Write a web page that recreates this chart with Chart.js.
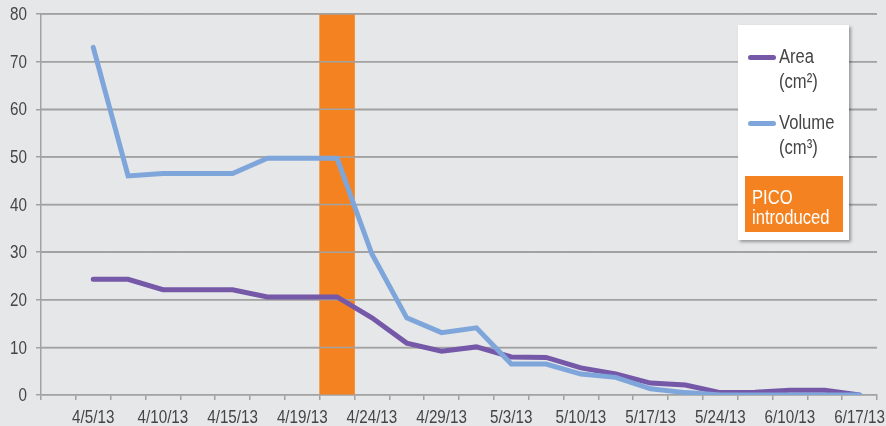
<!DOCTYPE html>
<html>
<head>
<meta charset="utf-8">
<script src="https://cdn.jsdelivr.net/npm/chart.js@4.4.0/dist/chart.umd.min.js"></script>
<style>
  html, body { margin: 0; padding: 0; background: #e6e7e9; }
  #wrap { position: relative; width: 886px; height: 426px; }
  #legend {
    position: absolute; left: 738px; top: 25px; width: 111px; height: 215px;
    background: #fff; box-shadow: 2px 2px 3px rgba(0,0,0,0.35);
    font-family: "Liberation Sans", sans-serif;
    font-size: 20px; color: #454545; line-height: 22px;
  }
  .item { position: absolute; left: 10px; }
  .swatch { position: absolute; left: 0; width: 28px; height: 5px; border-radius: 3px; }
  .txt { position: absolute; left: 31px; white-space: nowrap; transform: scaleX(0.83); transform-origin: left center; }
  #pico {
    position: absolute; left: 7px; top: 151px; width: 98px; height: 56px;
    background: #f48220; color: #fff;
  }
  #pico .txt { left: 7px; }
</style>
</head>
<body>
<div id="wrap">
  <canvas id="chart"></canvas>
  <div id="legend"></div>
</div>
<script>
// categories (only every other one is labelled on the axis)
const dateLabels = ['', '4/5/13', '', '4/10/13', '', '4/15/13', '', '4/19/13', '', '4/24/13', '', '4/29/13',
                    '', '5/3/13', '', '5/10/13', '', '5/17/13', '', '5/24/13', '', '6/10/13', '', '6/17/13'];
const areaCm2   = [null, 24.3, 24.3, 22.1, 22.1, 22.1, 20.6, 20.6, 20.6, 16.2, 10.9, 9.2,
                   10.1, 8.0, 7.9, 5.7, 4.4, 2.5, 2.1, 0.5, 0.6, 1.0, 1.0, 0];
const volumeCm3 = [null, 73, 46, 46.5, 46.5, 46.5, 49.7, 49.7, 49.7, 29.6, 16.2, 13.1,
                   14.1, 6.5, 6.5, 4.4, 3.7, 1.3, 0.5, 0, 0, 0, 0, 0];
const picoBand  = [null, null, null, null, null, null, null, null, 80, null, null, null,
                   null, null, null, null, null, null, null, null, null, null, null, null];
const yTicks = [0, 10, 20, 30, 40, 50, 60, 70, 80];

const purple = '#7559a8';
const blue = '#7fa6da';
const orange = '#f48220';
const gridColor = '#a2a2a2';
const textColor = '#454545';
const font = { family: '"Liberation Sans", sans-serif', size: 19 };
const narrow = 0.8; // the original uses a condensed face

// horizontal grid lines show through the orange band
const gridOverBand = {
    id: 'gridOverBand',
    afterDatasetDraw(chart, args) {
        if (args.meta.type !== 'bar') return;
        const y = chart.scales.y;
        const ctx = chart.ctx;
        ctx.save();
        ctx.strokeStyle = gridColor;
        ctx.lineWidth = 1.5;
        args.meta.data.forEach(bar => {
            if (!bar || bar.skip) return;
            const half = bar.width / 2;
            yTicks.forEach(v => {
                if (v === 0) return;
                const py = y.getPixelForValue(v);
                ctx.beginPath();
                ctx.moveTo(bar.x - half, py);
                ctx.lineTo(bar.x + half, py);
                ctx.stroke();
            });
        });
        ctx.restore();
    }
};

// tick labels drawn condensed, at the positions the scales give
const narrowTicks = {
    id: 'narrowTicks',
    afterDraw(chart) {
        const ctx = chart.ctx;
        const xs = chart.scales.x, ys = chart.scales.y;
        ctx.save();
        ctx.fillStyle = textColor;
        ctx.font = font.size + 'px ' + font.family;
        ctx.textBaseline = 'middle';
        const put = (text, x, y, align) => {
            ctx.save();
            ctx.translate(x, y);
            ctx.scale(narrow, 1);
            ctx.textAlign = align;
            ctx.fillText(text, 0, 0);
            ctx.restore();
        };
        xs.ticks.forEach((t, i) => {
            const lbl = dateLabels[t.value];
            if (lbl) put(lbl, xs.getPixelForTick(i), 418, 'center');
        });
        ys.ticks.forEach((t, i) => put(String(t.value), 27, ys.getPixelForTick(i) + 1, 'right'));
        ctx.restore();
    }
};

new Chart(document.getElementById('chart'), {
    data: {
        labels: dateLabels,
        datasets: [
            { type: 'line', label: 'Area', data: areaCm2, borderColor: purple, borderWidth: 5,
              pointRadius: 0, tension: 0, order: 2, borderCapStyle: 'round' },
            { type: 'line', label: 'Volume', data: volumeCm3, borderColor: blue, borderWidth: 5,
              pointRadius: 0, tension: 0, order: 1, borderCapStyle: 'round' },
            { type: 'bar', label: 'PICO introduced', data: picoBand, backgroundColor: orange,
              barPercentage: 1, categoryPercentage: 1, order: 3 }
        ]
    },
    options: {
        responsive: true,
        maintainAspectRatio: false,
        animation: false,
        layout: { padding: { top: 14, right: 9, left: 0, bottom: 0 } },
        plugins: { legend: { display: false }, tooltip: { enabled: false } },
        scales: {
            x: {
                offset: true,
                grid: { offset: true, drawOnChartArea: false, drawTicks: true, tickLength: 5, color: gridColor, lineWidth: 1.5 },
                border: { color: gridColor, width: 1.5 },
                ticks: { autoSkip: false, maxRotation: 0, minRotation: 0, color: 'rgba(0,0,0,0)', font, padding: 6 },
                afterFit(scale) { scale.height = 31; scale.paddingLeft = 0; scale.paddingRight = 0; }
            },
            y: {
                min: 0, max: 80,
                afterBuildTicks(scale) { scale.ticks = yTicks.map(v => ({ value: v })); },
                grid: { color: gridColor, lineWidth: 1.5, tickLength: 5 },
                border: { color: gridColor, width: 1.5 },
                ticks: { color: 'rgba(0,0,0,0)', font, padding: 8 },
                afterFit(scale) { scale.width = 41; scale.paddingTop = 0; scale.paddingBottom = 0; }
            }
        }
    },
    plugins: [gridOverBand, narrowTicks]
});

// legend box
const legend = document.getElementById('legend');
const entries = [
    { color: purple, lines: ['Area', '(cm²)'], top: 20 },
    { color: blue, lines: ['Volume', '(cm³)'], top: 86 }
];
entries.forEach(e => {
    const item = document.createElement('div');
    item.className = 'item';
    item.style.top = e.top + 'px';
    item.innerHTML = '<div class="swatch" style="top:10px;background:' + e.color + '"></div>' +
        '<div class="txt" style="top:0">' + e.lines[0] + '</div>' +
        '<div class="txt" style="top:25px">' + e.lines[1] + '</div>';
    legend.appendChild(item);
});
const pico = document.createElement('div');
pico.id = 'pico';
pico.innerHTML = '<div class="txt" style="top:10px">PICO</div><div class="txt" style="top:30px">introduced</div>';
legend.appendChild(pico);
</script>
</body>
</html>
